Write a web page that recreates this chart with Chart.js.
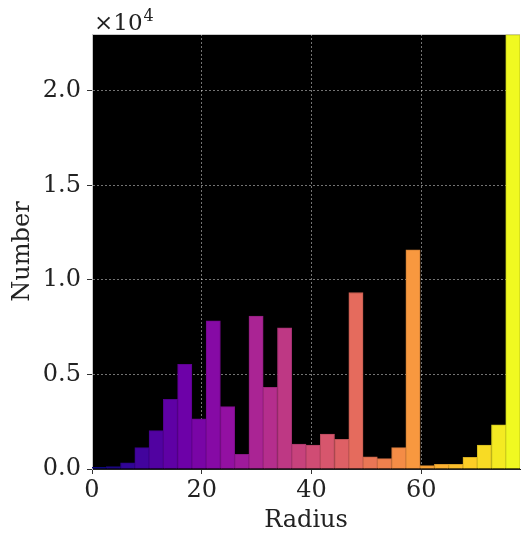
<!DOCTYPE html>
<html lang="en">
<head>
  <meta charset="UTF-8">
  <title>Radius histogram</title>
  <script src="https://cdn.jsdelivr.net/npm/chart.js"></script>
  <style>
    body { margin: 0; background: #fff; }
    #wrap { width: 522px; height: 533px; }
  </style>
</head>
<body>
  <div id="wrap"><canvas id="hist" width="522" height="533"></canvas></div>

  <script>
    // histogram: 30 bins of width 2.6 over 0..78
    const binWidth = 2.6;
    const binStarts = [0, 2.6, 5.2, 7.8, 10.4, 13, 15.6, 18.2, 20.8, 23.4,
                       26, 28.6, 31.2, 33.8, 36.4, 39, 41.6, 44.2, 46.8, 49.4,
                       52, 54.6, 57.2, 59.8, 62.4, 65, 67.6, 70.2, 72.8, 75.4];
    const counts = [90, 130, 330, 1130, 2030, 3690, 5540, 2650, 7830, 3300,
                    780, 8080, 4320, 7460, 1320, 1270, 1840, 1570, 9330, 650,
                    545, 1130, 11590, 175, 250, 250, 620, 1270, 2330, 22960];
    const xTicks = [0, 20, 40, 60];
    const yTicks = [0, 5000, 10000, 15000, 20000];

    // plasma colormap stops
    const plasma = ['#0d0887', '#41049d', '#6a00a8', '#8f0da4', '#b12a90', '#cc4778',
                    '#e16462', '#f2844b', '#fca636', '#fcce25', '#f0f921'];
    function hex(c) { return [1, 3, 5].map(i => parseInt(c.substr(i, 2), 16)); }
    function cmap(t, k) {
      const p = t * (plasma.length - 1);
      const i = Math.min(Math.floor(p), plasma.length - 2);
      const f = p - i;
      const a = hex(plasma[i]), b = hex(plasma[i + 1]);
      const rgb = a.map((v, j) => Math.round((v + (b[j] - v) * f) * k));
      return 'rgb(' + rgb.join(',') + ')';
    }
    const n = counts.length;
    const fills = counts.map((_, i) => cmap(i / (n - 1), 1));
    const edges = counts.map((_, i) => cmap(i / (n - 1), 0.85));

    const serif = 'DejaVu Serif';

    const blackArea = {
      id: 'blackArea',
      beforeDraw(chart) {
        const { ctx, chartArea: a } = chart;
        ctx.save();
        ctx.fillStyle = '#000';
        ctx.fillRect(a.left, a.top, a.right - a.left, a.bottom - a.top);
        ctx.strokeStyle = '#c8c8c8';
        ctx.lineWidth = 1;
        ctx.beginPath();
        ctx.moveTo(a.left, a.top + 0.5);
        ctx.lineTo(a.right, a.top + 0.5);
        ctx.stroke();
        ctx.restore();
      },
      afterDraw(chart) {
        const { ctx, chartArea: a } = chart;
        ctx.save();
        ctx.fillStyle = '#222';
        ctx.textBaseline = 'alphabetic';
        ctx.font = '23px "' + serif + '"';
        ctx.fillText('×10', a.left + 2, a.top - 4);
        const w = ctx.measureText('×10').width;
        ctx.font = '16px "' + serif + '"';
        ctx.fillText('4', a.left + 3 + w, a.top - 13);
        ctx.restore();
      }
    };

    new Chart(document.getElementById('hist'), {
      type: 'bar',
      data: {
        datasets: [{
          data: counts.map((c, i) => ({ x: binStarts[i] + binWidth / 2, y: c })),
          backgroundColor: fills,
          borderColor: edges,
          borderWidth: 1,
          barPercentage: 1,
          categoryPercentage: 1
        }]
      },
      options: {
        responsive: false,
        animation: false,
        layout: { padding: { top: 34, right: 2, left: 0, bottom: 0 } },
        plugins: { legend: { display: false }, tooltip: { enabled: false } },
        scales: {
          x: {
            type: 'linear',
            min: 0,
            max: 78,
            offset: false,
            z: 1,
            afterFit(s) { s.height = 64; },
            afterBuildTicks(s) { s.ticks = xTicks.map(v => ({ value: v })); },
            ticks: { font: { family: serif, size: 24 }, color: '#222', padding: 2, maxRotation: 0 },
            grid: { offset: false, color: 'rgba(255,255,255,0.45)', tickColor: '#333', tickLength: 5, lineWidth: 1 },
            border: { color: '#222', dash: [2, 2] },
            title: { display: true, text: 'Radius', font: { family: serif, size: 24 }, color: '#222', padding: { top: 0, bottom: -2 } }
          },
          y: {
            min: 0,
            max: 23000,
            z: 1,
            afterFit(s) { s.width = 92; },
            afterBuildTicks(s) { s.ticks = yTicks.map(v => ({ value: v })); },
            ticks: {
              font: { family: serif, size: 24 }, color: '#222', padding: 6,
              callback: v => (v / 10000).toFixed(1)
            },
            grid: { color: 'rgba(255,255,255,0.45)', tickColor: '#333', tickLength: 5, lineWidth: 1 },
            border: { color: '#c8c8c8', dash: [2, 2] },
            title: { display: true, text: 'Number', font: { family: serif, size: 24 }, color: '#222', padding: { top: 8, bottom: 0 } }
          }
        }
      },
      plugins: [blackArea]
    });
  </script>
</body>
</html>
